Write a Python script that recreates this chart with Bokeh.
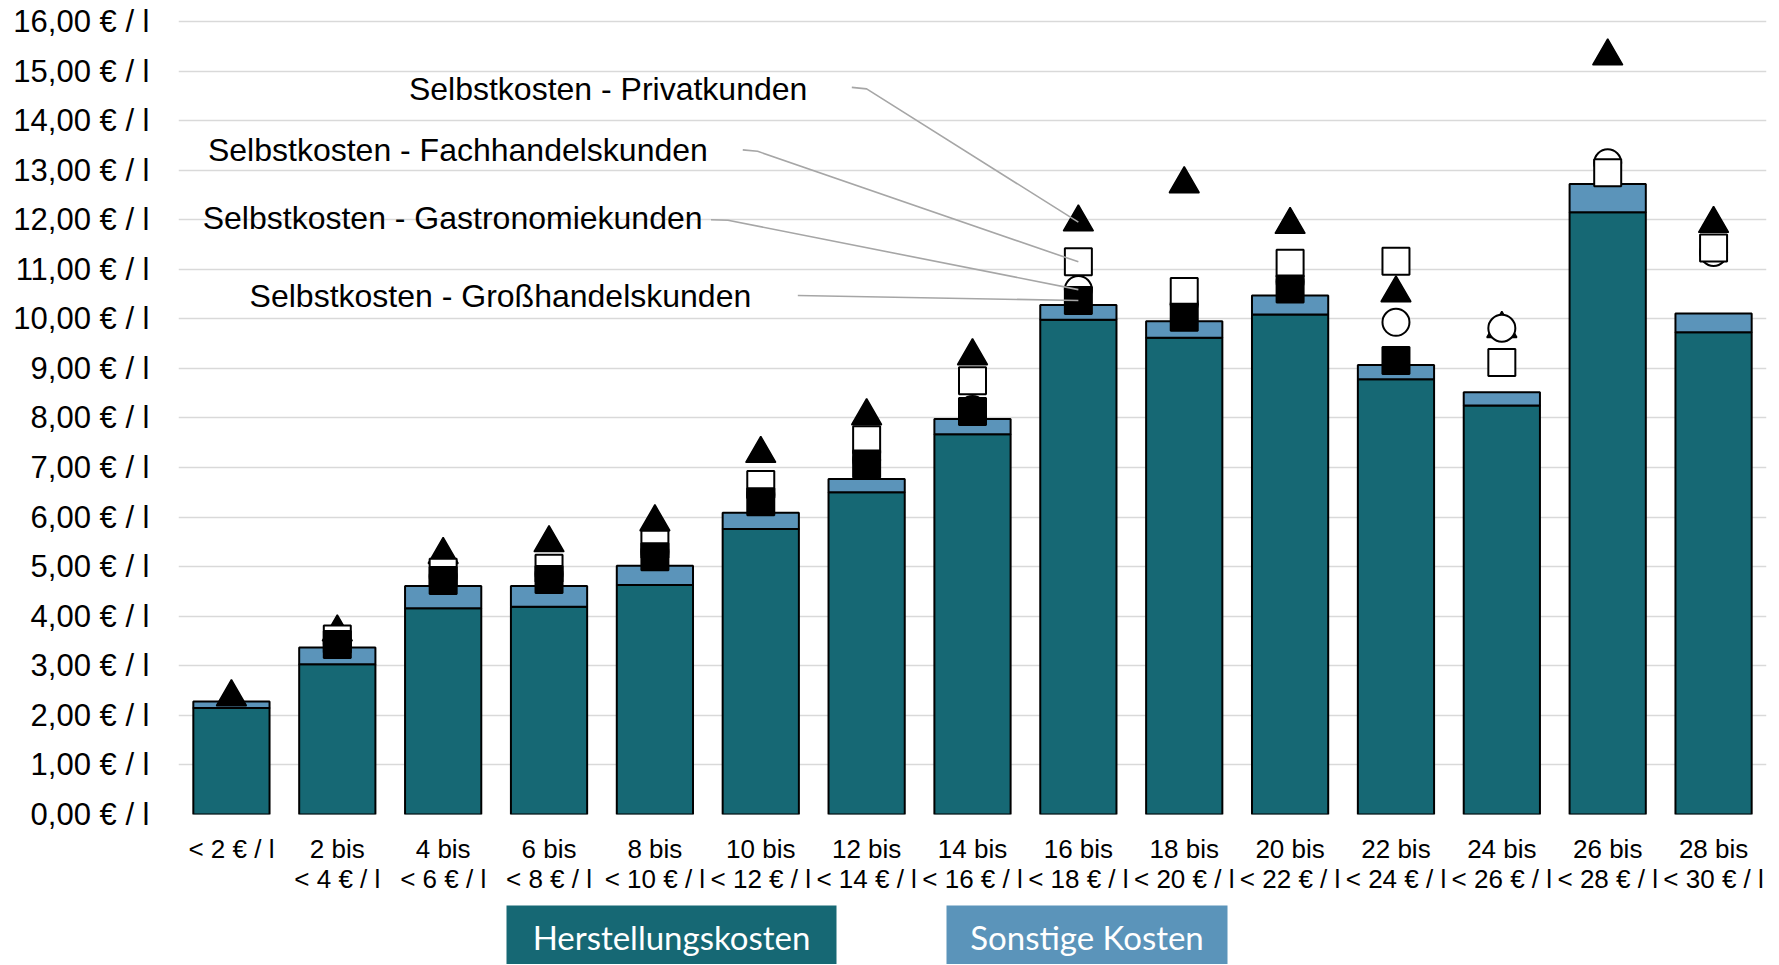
import numpy as np
from bokeh.plotting import figure
from bokeh.models import ColumnDataSource, Range1d, FactorRange, FixedTicker, Label
from bokeh.layouts import column
from bokeh.embed import file_html
from bokeh.resources import INLINE
from bokeh.core.properties import value

# ---------------- data ----------------
categories = ["< 2 € / l", "2 bis\n< 4 € / l", "4 bis\n< 6 € / l", "6 bis\n< 8 € / l",
              "8 bis\n< 10 € / l", "10 bis\n< 12 € / l", "12 bis\n< 14 € / l",
              "14 bis\n< 16 € / l", "16 bis\n< 18 € / l", "18 bis\n< 20 € / l",
              "20 bis\n< 22 € / l", "22 bis\n< 24 € / l", "24 bis\n< 26 € / l",
              "26 bis\n< 28 € / l", "28 bis\n< 30 € / l"]

herstellungskosten = [2.15, 3.03, 4.16, 4.19, 4.63, 5.76, 6.50, 7.67, 9.98, 9.62, 10.09, 8.78, 8.25, 12.15, 9.73]
sonstige_kosten = [0.13, 0.34, 0.45, 0.42, 0.39, 0.33, 0.27, 0.31, 0.30, 0.33, 0.38, 0.29, 0.27, 0.57, 0.38]

nan = np.nan
privatkunden = [2.37, 3.68, 5.24, 5.48, 5.90, 7.28, 8.04, 9.25, 11.95, 12.72, 11.90, 10.52, 9.80, 15.30, 11.92]
fachhandelskunden = [nan, 3.54, 4.89, 4.97, 5.45, 6.66, 7.56, 8.75, 11.15, 10.55, 11.12, 11.16, 9.12, 12.95, 11.43]
gastronomiekunden = [nan, 3.45, 4.80, 4.85, 5.30, 6.45, 7.15, 8.17, 10.59, 10.30, 10.75, 9.93, 9.81, 13.15, 11.34]
grosshandelskunden = [nan, 3.43, 4.72, 4.74, 5.20, 6.31, 7.07, 8.13, 10.37, 10.03, 10.60, 9.16, nan, nan, nan]

y_ticks = [0, 1, 2, 3, 4, 5, 6, 7, 8, 9, 10, 11, 12, 13, 14, 15, 16]
y_tick_labels = ["0,00 € / l", "1,00 € / l", "2,00 € / l", "3,00 € / l", "4,00 € / l",
                 "5,00 € / l", "6,00 € / l", "7,00 € / l", "8,00 € / l", "9,00 € / l",
                 "10,00 € / l", "11,00 € / l", "12,00 € / l", "13,00 € / l", "14,00 € / l",
                 "15,00 € / l", "16,00 € / l"]

annotation_texts = ["Selbstkosten - Privatkunden", "Selbstkosten - Fachhandelskunden",
                    "Selbstkosten - Gastronomiekunden", "Selbstkosten - Großhandelskunden"]
legend_labels = ["Herstellungskosten", "Sonstige Kosten"]

# ---------------- styles ----------------
DARK = "#166874"
LIGHT = "#5B94BA"
FONT = "Liberation Sans"
W = 1771
LEFT, RIGHT = 178, 5

p = figure(width=W, height=898,
           x_range=FactorRange(factors=categories, range_padding=0, factor_padding=0),
           y_range=Range1d(0, 16.1),
           output_backend="svg", toolbar_location=None,
           min_border_left=LEFT, min_border_right=RIGHT, min_border_top=16, min_border_bottom=84)
p.outline_line_color = None
p.background_fill_color = "white"
p.xgrid.grid_line_color = None
p.ygrid.grid_line_color = "#D9D9D9"
p.ygrid.grid_line_width = 1.6
p.ygrid.ticker = FixedTicker(ticks=y_ticks)

p.yaxis.ticker = FixedTicker(ticks=y_ticks)
p.yaxis.major_label_overrides = {t: l for t, l in zip(y_ticks, y_tick_labels)}
for ax in (p.xaxis, p.yaxis):
    ax.axis_line_color = None
    ax.major_tick_line_color = None
    ax.minor_tick_line_color = None
    ax.major_tick_out = 0
    ax.major_tick_in = 0
    ax.major_label_text_font = FONT
    ax.major_label_text_color = "black"
p.yaxis.major_label_text_font_size = "31px"
p.yaxis.major_label_standoff = 29
p.xaxis.major_label_text_font_size = "26px"
p.xaxis.major_label_text_line_height = 1.0
p.xaxis.major_label_standoff = 19

src = ColumnDataSource(dict(cat=categories, herstellung=herstellungskosten, sonstige=sonstige_kosten,
                            privat=np.array(privatkunden, dtype=float),
                            fach=np.array(fachhandelskunden, dtype=float),
                            gastro=np.array(gastronomiekunden, dtype=float),
                            gross=np.array(grosshandelskunden, dtype=float)))

p.vbar_stack(["herstellung", "sonstige"], x="cat", width=0.72, source=src,
             color=[DARK, LIGHT], line_color="black", line_width=2)

p.scatter(x="cat", y="privat", source=src, marker="triangle", size=30,
          fill_color="black", line_color="black", line_width=1.5)
p.scatter(x="cat", y="gastro", source=src, marker="circle", size=27,
          fill_color="white", line_color="black", line_width=2)
p.scatter(x="cat", y="fach", source=src, marker="square", size=27,
          fill_color="white", line_color="black", line_width=2)
p.scatter(x="cat", y="gross", source=src, marker="square", size=27,
          fill_color="black", line_color="black", line_width=2)

# leader lines to the markers of the "16 bis < 18" group (index 8, synthetic x 8.5)
k = 8
xk = k + 0.5
p.multi_line(xs=[[6.36, 6.50, xk], [5.33, 5.47, xk], [5.03, 5.19, xk], [5.85, xk]],
             ys=[[14.67, 14.64, privatkunden[k]], [13.41, 13.38, fachhandelskunden[k]],
                 [12.00, 11.99, gastronomiekunden[k]], [10.47, grosshandelskunden[k]]],
             line_color="#A6A6A6", line_width=1.6)

label_pos = [(5.94, 14.64), (5.00, 13.40), (4.95, 12.03), (5.41, 10.47)]
for txt, (lx, ly) in zip(annotation_texts, label_pos):
    p.add_layout(Label(x=lx, y=ly, text=txt, text_align="right", text_baseline="middle",
                       text_font=FONT, text_font_size="32px", text_color="black"))

# ---------------- legend strip (x in page pixels) ----------------
lg = figure(width=W, height=66, x_range=Range1d(LEFT, W - RIGHT), y_range=Range1d(66, 0),
            output_backend="svg", toolbar_location=None,
            min_border_left=LEFT, min_border_right=RIGHT, min_border_top=0, min_border_bottom=0,
            x_axis_location=None, y_axis_location=None)
lg.outline_line_color = None
lg.grid.visible = False
box_left = [506, 946]
box_right = [836, 1227]
lg.quad(left=box_left, right=box_right, top=[7, 7], bottom=[90, 90],
        fill_color=[DARK, LIGHT], line_color=None)
lg.text(x=[(a + b) / 2 for a, b in zip(box_left, box_right)], y=[38, 38], text=legend_labels,
        text_font=value("Lato"), text_font_size="33px", text_color="white",
        text_align="center", text_baseline="middle")

layout = column(p, lg, spacing=0)
open("out.html", "w").write(file_html(layout, INLINE))
